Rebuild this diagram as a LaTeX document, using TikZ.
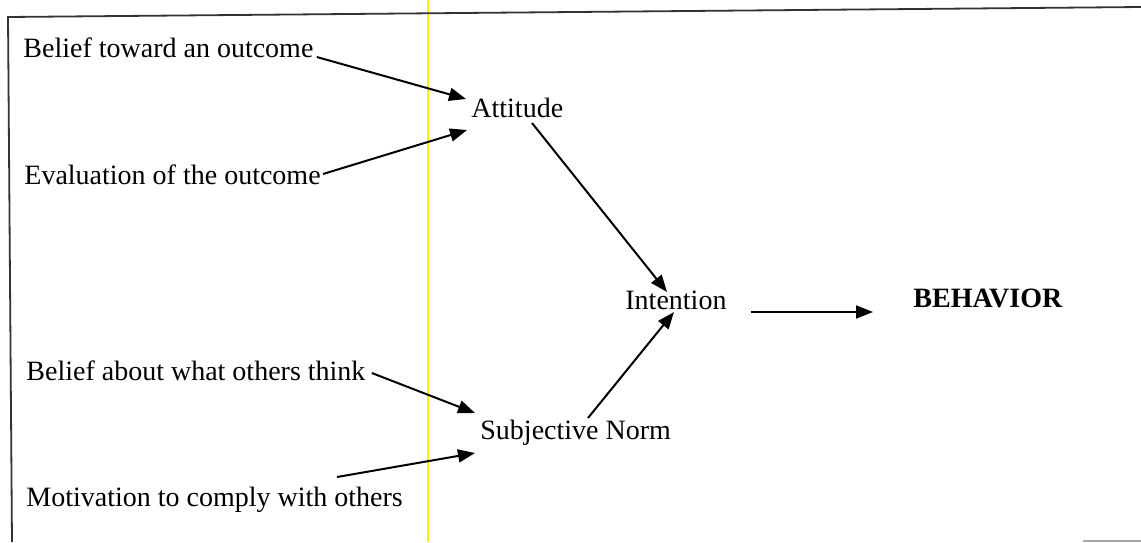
\documentclass[tikz,border=0pt]{standalone}
\usepackage{fontspec}
\setmainfont{Liberation Serif}
\usetikzlibrary{arrows.meta}

\begin{document}
\begin{tikzpicture}[x=0.5pt,y=-0.5pt,
  lbl/.style={anchor=base west, inner sep=0pt, font=\fontsize{14}{16}\selectfont},
  outc/.style={lbl, font=\fontsize{14}{16}\selectfont\bfseries},
  arc/.style={-{Triangle[length=8.5pt,width=6.5pt]}, line width=1pt},
  frame/.style={line width=0.9pt, black!80}]
  \useasboundingbox (0,0) rectangle (1141,542);
  % scanned page frame
  \draw[yellow, line width=1pt] (428,0) -- (428,542);
  \draw[frame] (1141,7) -- (8,17) -- (12,542);
  \draw[black!35, line width=0.8pt] (1083,541) -- (1141,541);
  % beliefs
  \node[lbl] (B1) at (23,57)  {Belief toward an outcome};
  \node[lbl] (E1) at (24,184) {Evaluation of the outcome};
  \node[lbl] (B2) at (26,380) {Belief about what others think};
  \node[lbl] (M2) at (26,506) {Motivation to comply with others};
  % constructs
  \node[lbl] (AT) at (471,117) {Attitude};
  \node[lbl] (SN) at (480,439) {Subjective Norm};
  \node[lbl] (IN) at (625,309) {Intention};
  \node[outc] (BE) at (913,307) {BEHAVIOR};
  % links
  \draw[arc] ([shift={(3,0)}]B1.base east) -- ([shift={(-5,-18)}]AT.base west);
  \draw[arc] ([shift={(2,-10)}]E1.base east) -- ([shift={(-4,13)}]AT.base west);
  \draw[arc] ([shift={(6,-7)}]B2.base east) -- ([shift={(-5,-26)}]SN.base west);
  \draw[arc] ([shift={(311,-29)}]M2.base west) -- ([shift={(-5,14)}]SN.base west);
  \draw[arc] ([shift={(61,6)}]AT.base west) -- ([shift={(42,-17)}]IN.base west);
  \draw[arc] ([shift={(108,-21)}]SN.base west) -- ([shift={(49,3)}]IN.base west);
  \draw[arc] ([shift={(24,3)}]IN.base east) -- ([shift={(-40,5)}]BE.base west);
\end{tikzpicture}
\end{document}
